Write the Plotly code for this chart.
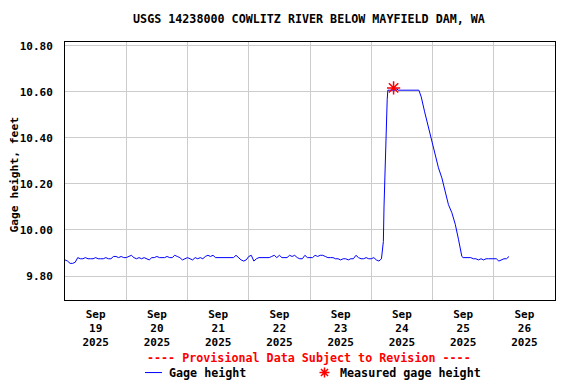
import plotly.graph_objects as go
import pandas as pd

# The page body adds an 8px offset; the figure is sized so it fills the 576x384 window.
W_WIN, H_WIN, OFF = 576, 384, 8
W, H = W_WIN - OFF, H_WIN - OFF

title_text = "USGS 14238000 COWLITZ RIVER BELOW MAYFIELD DAM, WA"
y_title = "Gage height, feet"
series_name = "Gage height"
meas_name = "Measured gage height"
provisional = "---- Provisional Data Subject to Revision ----"

# Hourly gage height readings (feet)
sep19 = [9.87, 9.865, 9.855, 9.855, 9.86, 9.88, 9.875, 9.875, 9.88, 9.875, 9.875, 9.875,
         9.88, 9.875, 9.875, 9.875, 9.88, 9.875, 9.875, 9.885, 9.885, 9.88, 9.885, 9.88]
sep20 = [9.88, 9.885, 9.89, 9.88, 9.875, 9.88, 9.875, 9.88, 9.875, 9.87, 9.88, 9.88,
         9.885, 9.88, 9.88, 9.88, 9.885, 9.88, 9.88, 9.89, 9.885, 9.88, 9.87, 9.875]
sep21 = [9.88, 9.875, 9.87, 9.88, 9.875, 9.88, 9.875, 9.885, 9.89, 9.885, 9.89, 9.88,
         9.88, 9.88, 9.88, 9.88, 9.88, 9.88, 9.88, 9.89, 9.88, 9.87, 9.865, 9.87]
sep22 = [9.885, 9.89, 9.865, 9.875, 9.88, 9.88, 9.88, 9.88, 9.88, 9.885, 9.89, 9.88,
         9.89, 9.88, 9.88, 9.88, 9.89, 9.885, 9.89, 9.88, 9.875, 9.875, 9.89, 9.88]
sep23 = [9.88, 9.88, 9.89, 9.885, 9.89, 9.89, 9.885, 9.88, 9.88, 9.88, 9.875, 9.875,
         9.87, 9.875, 9.875, 9.87, 9.875, 9.875, 9.89, 9.88, 9.875, 9.875, 9.88, 9.875]
sep24_early = [9.875, 9.88, 9.87, 9.865, 9.875]

# Release event: rise, plateau and recession (irregular times)
event_times = ["2025-09-24 04:30", "2025-09-24 04:45", "2025-09-24 05:00", "2025-09-24 05:15",
               "2025-09-24 05:30", "2025-09-24 05:45", "2025-09-24 06:00", "2025-09-24 06:15",
               "2025-09-24 06:30", "2025-09-24 09:30", "2025-09-24 10:00", "2025-09-24 10:30",
               "2025-09-24 18:40", "2025-09-24 19:35", "2025-09-24 20:55", "2025-09-24 22:10",
               "2025-09-24 23:30", "2025-09-25 01:05", "2025-09-25 02:20", "2025-09-25 03:40",
               "2025-09-25 05:00", "2025-09-25 06:15", "2025-09-25 07:35", "2025-09-25 08:55",
               "2025-09-25 10:10", "2025-09-25 11:30"]
event_vals = [9.94, 9.95, 10.10, 10.22, 10.285, 10.355, 10.47, 10.566,
              10.607, 10.607, 10.614, 10.607,
              10.607, 10.578, 10.513, 10.456, 10.39, 10.32, 10.27, 10.226,
              10.17, 10.11, 10.075, 10.025, 9.96, 9.885]

sep25_late = [9.88, 9.88, 9.88, 9.88, 9.875, 9.875, 9.87, 9.875, 9.87, 9.875, 9.875, 9.875]
sep26 = [9.875, 9.875, 9.865, 9.87, 9.875, 9.875, 9.885]

meas_time = ["2025-09-24 08:45"]
meas_val = [10.617]

tick_days = ["19", "20", "21", "22", "23", "24", "25", "26"]
y_ticks = [9.80, 10.00, 10.20, 10.40, 10.60, 10.80]
y_tick_text = ["9.80", "10.00", "10.20", "10.40", "10.60", "10.80"]

# ---- assemble series ----
times, vals = [], []
def add_hourly(start, values):
    rng = pd.date_range(start, periods=len(values), freq="h")
    times.extend(list(rng))
    vals.extend(values)

add_hourly("2025-09-19 00:00", sep19)
add_hourly("2025-09-20 00:00", sep20)
add_hourly("2025-09-21 00:00", sep21)
add_hourly("2025-09-22 00:00", sep22)
add_hourly("2025-09-23 00:00", sep23)
add_hourly("2025-09-24 00:00", sep24_early)
times.extend(pd.to_datetime(event_times))
vals.extend(event_vals)
add_hourly("2025-09-25 12:00", sep25_late)
add_hourly("2025-09-26 00:00", sep26)

FONT = "DejaVu Sans Mono"
fnt = dict(family=FONT, size=11.7, color="black", weight="bold")
tickfnt = dict(family=FONT, size=11, color="black", weight="bold")

fig = go.Figure()
fig.add_trace(go.Scatter(x=times, y=vals, mode="lines", name=series_name,
                         line=dict(color="#0000ff", width=1), showlegend=False))
fig.add_trace(go.Scatter(x=pd.to_datetime(meas_time), y=meas_val, mode="markers", name=meas_name,
                         marker=dict(symbol="asterisk-open", size=11, color="red",
                                     line=dict(color="red", width=1.5)),
                         showlegend=False))

tick_vals = [pd.Timestamp(f"2025-09-{d} 12:00") for d in tick_days]
tick_text = [f"Sep<br>{d}<br>2025" for d in tick_days]

# helpers: window pixel -> paper fraction
def px(x):
    return (x - OFF) / W
def py(y):
    return 1 - (y - OFF) / H

L, R, T, B = 65, 555, 40, 300
fig.update_layout(
    width=W, height=H,
    margin=dict(l=0, r=0, t=0, b=0),
    paper_bgcolor="white", plot_bgcolor="white",
    showlegend=False,
    title=dict(text=title_text, x=px(309), xanchor="center", y=py(19), yanchor="middle",
               font=fnt),
    xaxis=dict(domain=[px(L), px(R)], range=["2025-09-19 00:00", "2025-09-27 00:00"],
               tickmode="array", tickvals=tick_vals, ticktext=tick_text, showgrid=False,
               ticks="", tickfont=tickfnt, ticklabelstandoff=3,
               minor=dict(tickmode="linear", tick0="2025-09-19", dtick=86400000,
                          showgrid=True, gridcolor="#cccccc", gridwidth=1, ticks=""),
               showline=True, linecolor="black", linewidth=1, mirror=True, zeroline=False),
    yaxis=dict(domain=[py(B), py(T)], range=[9.694, 10.817],
               tickmode="array", tickvals=y_ticks, ticktext=y_tick_text,
               showgrid=True, gridcolor="#cccccc", gridwidth=1, ticks="",
               tickfont=tickfnt, ticklabelstandoff=9,
               showline=True, linecolor="black", linewidth=1, mirror=True, zeroline=False),
)

fig.add_annotation(text=y_title, textangle=-90, xref="paper", yref="paper",
                   x=px(14.5), y=py(174), xanchor="center", yanchor="middle",
                   showarrow=False, borderpad=0,
                   font=dict(family=FONT, size=11.3, color="black", weight="bold"))
fig.add_annotation(text=provisional, xref="paper", yref="paper", x=px(309), y=py(358),
                   xanchor="center", yanchor="middle", showarrow=False,
                   font=dict(family=FONT, size=11.7, color="red", weight="bold"))
fig.add_annotation(text=series_name, xref="paper", yref="paper", x=px(167), y=py(373),
                   xanchor="left", yanchor="middle", showarrow=False, font=fnt)
fig.add_annotation(text=meas_name, xref="paper", yref="paper", x=px(338), y=py(373),
                   xanchor="left", yanchor="middle", showarrow=False, font=fnt)
# legend symbols
fig.add_shape(type="line", xref="paper", yref="paper", x0=px(145), x1=px(162),
              y0=py(372.5), y1=py(372.5), line=dict(color="#0000ff", width=1))
cx, cy, r = 324.5, 372.5, 5
d = r * 0.7071
path = (f"M {px(cx-r)},{py(cy)} L {px(cx+r)},{py(cy)} "
        f"M {px(cx)},{py(cy-r)} L {px(cx)},{py(cy+r)} "
        f"M {px(cx-d)},{py(cy-d)} L {px(cx+d)},{py(cy+d)} "
        f"M {px(cx-d)},{py(cy+d)} L {px(cx+d)},{py(cy-d)}")
fig.add_shape(type="path", xref="paper", yref="paper", path=path,
              line=dict(color="red", width=1.5))

fig.write_html("out.html")
